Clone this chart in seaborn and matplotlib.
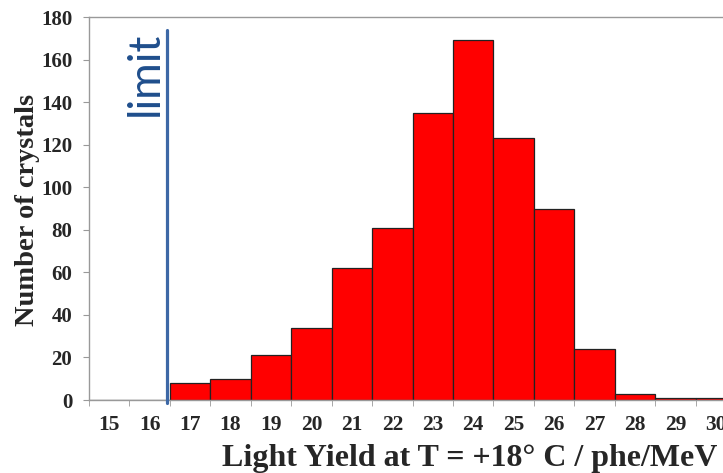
import numpy as np
import pandas as pd
import matplotlib
matplotlib.use("Agg")
import matplotlib.pyplot as plt
import seaborn as sns

# light yield bins (phe/MeV) and number of crystals per bin
light_yield = [15, 16, 17, 18, 19, 20, 21, 22, 23, 24, 25, 26, 27, 28, 29, 30]
n_crystals = [0, 0, 8, 10, 21, 34, 62, 81, 135, 169, 123, 90, 24, 3, 1, 1]
limit_value = 16.42
y_ticks = [0, 20, 40, 60, 80, 100, 120, 140, 160, 180]

data = pd.DataFrame({"LY": [str(v) for v in light_yield], "N": n_crystals})

sns.set_style("white")
plt.rcParams["font.family"] = ["Liberation Serif", "DejaVu Serif"]

fig = plt.figure(figsize=(7.23, 4.73), dpi=100)
ax = fig.add_axes([89 / 723, 73 / 473, 647 / 723, 383 / 473])

sns.barplot(data=data, x="LY", y="N", color="#ff0000", saturation=1,
            width=1.0, edgecolor="#222222", linewidth=0.9, ax=ax)

ax.set_xlim(-0.5, len(light_yield) - 0.5)
ax.set_ylim(0, 180)
ax.set_yticks(y_ticks)
ax.set_yticklabels([str(t) for t in y_ticks], fontsize=15, fontweight="bold")
ax.set_xticks(range(len(light_yield)))
ax.set_xticklabels([str(v) for v in light_yield], fontsize=15.5, fontweight="bold")
ax.set_xticks(np.arange(-0.5, len(light_yield), 1), minor=True)
ax.tick_params(axis="x", which="major", length=0, pad=11)
ax.tick_params(axis="x", which="minor", length=4, color="#999999", direction="out", bottom=True)
ax.tick_params(axis="y", length=4, color="#999999", direction="out", left=True, pad=8)

for side in ["left", "bottom", "top", "right"]:
    ax.spines[side].set_color("#999999")
    ax.spines[side].set_linewidth(1.0)

ax.set_xlabel("Light Yield at T = +18° C / phe/MeV", fontsize=23, fontweight="bold")
ax.xaxis.set_label_coords((470 - 89) / 647, -(458 - 400) / 383)
ax.xaxis.label.set_va("center")
ax.set_ylabel("Number of crystals", fontsize=20.5, fontweight="bold")
ax.yaxis.set_label_coords(-(89 - 28) / 647, (400 - 210) / 383)
ax.yaxis.label.set_va("center")

# limit line
lim_x = light_yield.index(17) - 1 + (limit_value - 16)
ax.plot([lim_x, lim_x], [-1.5, 174], color="#3d68a6", linewidth=2.3, clip_on=False, zorder=5)
ax.text(lim_x - 0.03, 173, "limit", rotation=90, ha="right", va="top",
        fontsize=32, color="#1f4e8c", family=["Lato", "DejaVu Sans"])

plt.savefig("out.png", dpi=100)
